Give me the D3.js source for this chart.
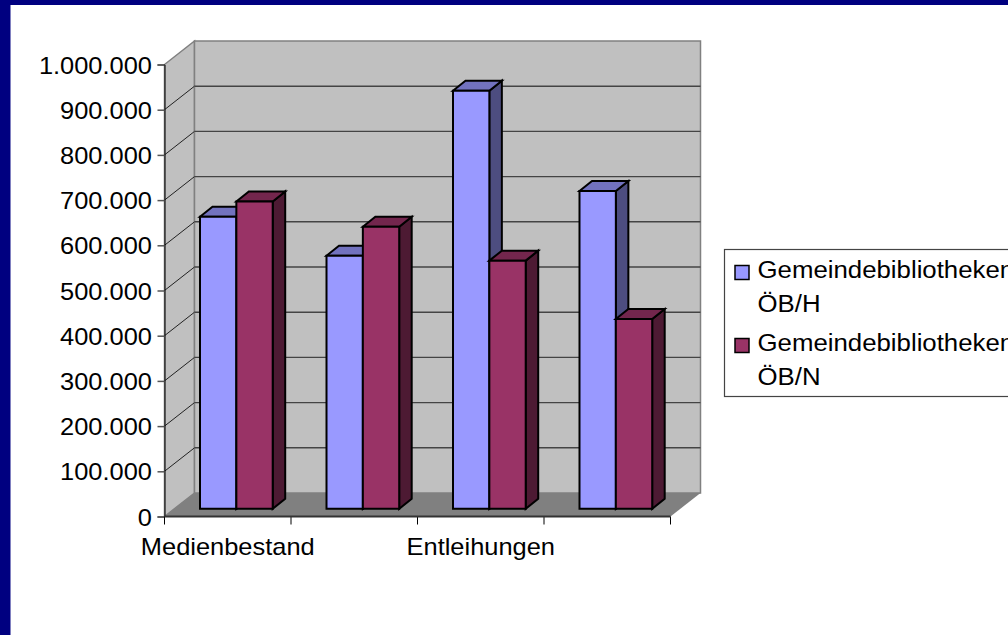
<!DOCTYPE html>
<html>
<head>
<meta charset="utf-8">
<script src="https://cdn.jsdelivr.net/npm/d3@7"></script>
<style>
    html, body { margin: 0; padding: 0; background: #000080; overflow: hidden; }
    svg { display: block; }
    text { font-family: "Liberation Sans", Arial, sans-serif; fill: #000; }
</style>
</head>
<body>
<div id="draw_here"></div>
<script type="text/javascript">
    // Values
    categories = ["c1", "c2", "c3", "c4"]
    categoryLabels = ["Medienbestand", "", "Entleihungen", ""]
    seriesNames = ["ÖB/H", "ÖB/N"]
    legendTitle = "Gemeindebibliotheken"
    valuesH = [646000, 560000, 925000, 703000]
    valuesN = [680000, 624000, 549000, 420000]
    yTicks = [0, 100000, 200000, 300000, 400000, 500000, 600000, 700000, 800000, 900000, 1000000]

    canvas = ({width: 1008, height: 635})
    l_blue = ["#9999ff", "#7272bf", "#4d4d80"]
    l_red = ["#993366", "#73264d", "#4d1a33"]
    seriesColors = [l_blue, l_red]
    seriesValues = [valuesH, valuesN]
    fontSize = 24
    stretch = "scale(1.06,1)"

    de = d3.formatLocale({decimal: ",", thousands: ".", grouping: [3], currency: ["", "€"]})

    // Front plane of the 3D box
    x = d3.scaleBand().domain(categories).range([164.5, 670.5])
    y = d3.scaleLinear().domain([0, 1000000]).range([516.5, 64.5])
    xBars = d3.scaleBand().domain(seriesNames).range([35.5, 108.2])

    wallD = {x: 30, y: -23.5}   // front plane to back wall
    barO = {x: 0, y: -7.7}      // front plane to bar front
    barD = {x: 12.5, y: -10}    // bar depth

    svg = d3.select("#draw_here").append("svg")
        .attr("width", canvas.width)
        .attr("height", canvas.height)

    svg.append("rect")
        .attr("x", 10.5).attr("y", 5)
        .attr("width", canvas.width).attr("height", canvas.height)
        .attr("fill", "#fff")

    x0 = x.range()[0], x1 = x.range()[1]
    y0 = y(0), y1 = y(1000000)
    line = d3.line()

    // Walls and floor
    svg.append("path")
        .attr("fill", "#c0c0c0").attr("stroke", "#808080").attr("stroke-width", 1.5)
        .attr("d", line([[x0, y0], [x0 + wallD.x, y0 + wallD.y], [x0 + wallD.x, y1 + wallD.y], [x0, y1]]) + "Z")
    svg.append("path")
        .attr("fill", "#c0c0c0").attr("stroke", "#808080").attr("stroke-width", 1.5)
        .attr("d", line([[x0 + wallD.x, y0 + wallD.y], [x1 + wallD.x, y0 + wallD.y], [x1 + wallD.x, y1 + wallD.y], [x0 + wallD.x, y1 + wallD.y]]) + "Z")
    svg.append("path")
        .attr("fill", "#808080")
        .attr("d", line([[x0, y0], [x0 + wallD.x, y0 + wallD.y], [x1 + wallD.x, y0 + wallD.y], [x1, y0]]) + "Z")

    // Gridlines
    svg.append("g").selectAll("path")
        .data(yTicks.filter(d => d > 0 && d < 1000000))
        .join("path")
        .attr("fill", "none").attr("stroke", "#222").attr("stroke-width", 1)
        .attr("d", d => line([[x0, y(d)], [x0 + wallD.x, y(d) + wallD.y]]))
    svg.append("g").selectAll("path")
        .data(yTicks.filter(d => d > 0 && d < 1000000))
        .join("path")
        .attr("fill", "none").attr("stroke", "#444").attr("stroke-width", 1.4)
        .attr("d", d => line([[x0 + wallD.x, y(d) + wallD.y], [x1 + wallD.x, y(d) + wallD.y]]))

    // Bars
    categories.forEach((c, i) => {
        seriesNames.forEach((s, j) => {
            v = seriesValues[j][i]
            l = x(c) + xBars(s) + barO.x
            r = l + xBars.bandwidth()
            t = y(v) + barO.y
            b = y(0) + barO.y
            g = svg.append("g")
                .attr("stroke", "#000").attr("stroke-width", 2).attr("stroke-linejoin", "miter")
            g.append("path").attr("fill", seriesColors[j][2])
                .attr("d", line([[r, t], [r + barD.x, t + barD.y], [r + barD.x, b + barD.y], [r, b]]) + "Z")
            g.append("path").attr("fill", seriesColors[j][1])
                .attr("d", line([[l, t], [l + barD.x, t + barD.y], [r + barD.x, t + barD.y], [r, t]]) + "Z")
            g.append("path").attr("fill", seriesColors[j][0])
                .attr("d", line([[l, t], [r, t], [r, b], [l, b]]) + "Z")
        })
    })

    // Axes
    yAxis = d3.axisLeft(y).tickValues(yTicks).tickSize(7).tickPadding(6)
        .tickFormat(d => de.format(",")(d))
    gy = svg.append("g").attr("transform", `translate(${x0},0)`).call(yAxis)
    gy.select(".domain").attr("stroke", "#000")
    gy.selectAll(".tick line").attr("stroke", "#555").attr("stroke-width", 1.5)
    gy.selectAll("text")
        .attr("font-size", fontSize)
        .attr("font-family", "Liberation Sans")
        .attr("x", 0)
        .attr("dy", "0.36em")
        .attr("transform", `translate(-12.5,0) ${stretch}`)

    xTickPos = d3.range(0, categories.length + 1).map(i => x0 + i * x.bandwidth())
    svg.append("g").selectAll("line")
        .data(xTickPos)
        .join("line")
        .attr("x1", d => d).attr("x2", d => d)
        .attr("y1", y0).attr("y2", y0 + 8)
        .attr("stroke", "#000").attr("stroke-width", 1)
    svg.append("line")
        .attr("x1", x0).attr("x2", x1).attr("y1", y0).attr("y2", y0)
        .attr("stroke", "#333").attr("stroke-width", 1.8)

    categories.forEach((c, i) => {
        svg.append("text")
            .attr("transform", `translate(${x(c) + x.bandwidth() / 2},555) ${stretch}`)
            .attr("text-anchor", "middle")
            .attr("font-size", fontSize)
            .text(categoryLabels[i])
    })

    // Legend (runs off the right edge of the slide)
    legend = svg.append("g")
    legend.append("rect")
        .attr("x", 724.5).attr("y", 249.5).attr("width", 320).attr("height", 147)
        .attr("fill", "#fff").attr("stroke", "#444").attr("stroke-width", 1.2)
    seriesNames.forEach((s, j) => {
        top_ = 278 + j * 73
        legend.append("rect")
            .attr("x", 735).attr("y", top_ - 12.5).attr("width", 14).attr("height", 14)
            .attr("fill", seriesColors[j][0])
            .attr("stroke", "#000").attr("stroke-width", 1.5)
        legend.append("text")
            .attr("transform", `translate(757.5,${top_}) scale(1.075,1)`)
            .attr("font-size", fontSize)
            .text(legendTitle)
        legend.append("text")
            .attr("transform", `translate(757.5,${top_ + 33.5}) scale(1.075,1)`)
            .attr("font-size", fontSize)
            .text(s)
    })
</script>
</body>
</html>
